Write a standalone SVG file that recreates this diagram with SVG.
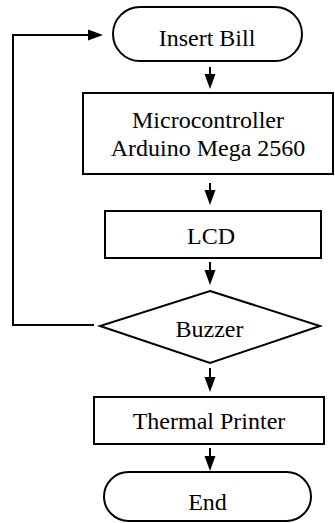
<svg xmlns="http://www.w3.org/2000/svg" width="335" height="523" viewBox="0 0 335 523">
<style>
.s{fill:#fff;stroke:#000;stroke-width:2}
.t{font-family:'Liberation Serif','Times New Roman',serif;font-size:24px;fill:#000;text-anchor:middle}
.c{fill:none;stroke:#000;stroke-width:2}
</style>
<defs>
<marker id="ah" markerUnits="userSpaceOnUse" markerWidth="15" markerHeight="12" refX="10" refY="6" orient="auto">
<path d="M0,0.5 L15,6 L0,11.5 z" fill="#000"/>
</marker>
</defs>
<g id="connectors">
<line class="c" x1="210" y1="67" x2="210" y2="84" marker-end="url(#ah)"/>
<line class="c" x1="210" y1="183" x2="210" y2="200" marker-end="url(#ah)"/>
<line class="c" x1="210" y1="262" x2="210" y2="280" marker-end="url(#ah)"/>
<line class="c" x1="210" y1="368" x2="210" y2="387" marker-end="url(#ah)"/>
<line class="c" x1="210" y1="448" x2="210" y2="466" marker-end="url(#ah)"/>
<polyline class="c" points="94,325 13,325 13,35 98,35" marker-end="url(#ah)"/>
</g>
<g id="insert-bill">
<rect class="s" x="113" y="7" width="189" height="54" rx="27" ry="27"/>
<text class="t" x="207" y="46">Insert Bill</text>
</g>
<g id="microcontroller">
<rect class="s" x="83" y="93" width="250" height="81"/>
<text class="t" x="208" y="128">Microcontroller</text>
<text class="t" x="208" y="156">Arduino Mega 2560</text>
</g>
<g id="lcd">
<rect class="s" x="105" y="211" width="216" height="47"/>
<text class="t" x="211" y="244">LCD</text>
</g>
<g id="buzzer">
<polygon class="s" points="210,291 320,326 210,363 100,326"/>
<text class="t" x="209.5" y="337">Buzzer</text>
</g>
<g id="thermal-printer">
<rect class="s" x="94" y="397" width="230" height="47"/>
<text class="t" x="209" y="429">Thermal Printer</text>
</g>
<g id="end">
<rect class="s" x="104" y="472" width="207" height="49" rx="24.5" ry="24.5"/>
<text class="t" x="207.5" y="510">End</text>
</g>
</svg>
